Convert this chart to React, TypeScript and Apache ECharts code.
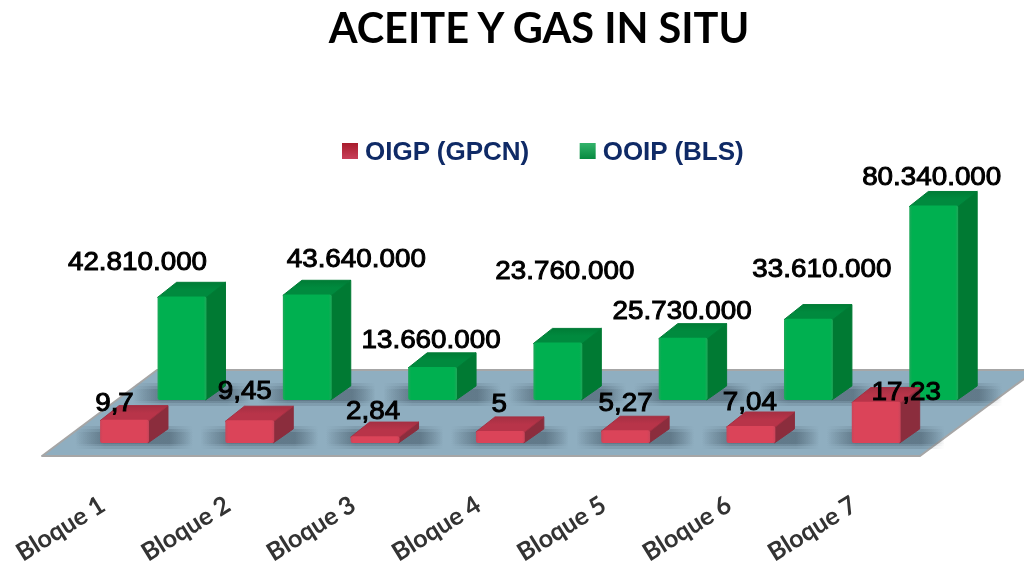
import React, { useEffect, useRef } from "react";
import * as echarts from "echarts";

const categories = ["Bloque 1", "Bloque 2", "Bloque 3", "Bloque 4", "Bloque 5", "Bloque 6", "Bloque 7"];
const oigpValues = [9.7, 9.45, 2.84, 5, 5.27, 7.04, 17.23];
const ooipValues = [42810000, 43640000, 13660000, 23760000, 25730000, 33610000, 80340000];
const oigpName = "OIGP (GPCN)";
const ooipName = "OOIP (BLS)";
const titleText = "ACEITE Y GAS IN SITU";

// hand-placed label nudges (px from the top-centre of each bar's front face)
const oigpLabelDx = [-10, -5, -2, -1, 0, -1, 30];
const oigpLabelDy = [-17, -30, -26, -28, -28, -25, -10];
const ooipLabelDx = [-44.5, 49, -1.5, 7, -1, 13.5, -2];
const ooipLabelDy = [-35, -36, -28, -72.5, -27, -50, -29];

const fmtOigp = (v: number) => String(v).replace(".", ",");
const fmtOoip = (v: number) => String(v).replace(/\B(?=(\d{3})+(?!\d))/g, ".");

const hGrad = (stops: string[]) => ({
  type: "linear", x: 0, y: 0, x2: 1, y2: 0,
  colorStops: stops.map((color, i) => ({ offset: i === 0 ? 0 : i === 1 ? 0.06 : i === 2 ? 0.94 : 1, color })),
});

const shadowFill = (a: number) => ({
  type: "linear", x: 0, y: 0, x2: 1, y2: 0,
  colorStops: [
    { offset: 0, color: "rgba(50,68,82,0)" },
    { offset: 0.25, color: `rgba(50,68,82,${a})` },
    { offset: 0.8, color: `rgba(50,68,82,${a})` },
    { offset: 1, color: "rgba(50,68,82,0)" },
  ],
});

function bar3d(
  colors: { frontEdge: string; front: string; top: string; topEdge: string; side: string },
  labelDx: number[], labelDy: number[], fmt: (v: number) => string,
) {
  return (params: any, api: any) => {
    const i = params.dataIndex;
    const v = api.value(1);
    const top = api.coord([api.value(0), v]);
    const base = api.coord([api.value(0), 0]);
    const band = api.size([1, 0])[0];
    const w = band * 0.39;
    const dx = w * 0.39;
    const dy = dx * 0.74;
    const x0 = top[0] - w / 2;
    const x1 = top[0] + w / 2;
    const yT = top[1];
    const yB = base[1];
    const shadows = [
      [-3, 6, 0.16], [0, 3, 0.2], [3, 1, 0.24],
    ].map(([inset, down, a]) => ({
      type: "rect",
      silent: true,
      shape: { x: x0 - 25, y: yB - dy + inset, width: w + dx + 50, height: dy - inset + down },
      style: { fill: shadowFill(a) },
    }));
    return {
      type: "group",
      children: [
        ...shadows,
        {
          type: "polygon",
          shape: { points: [[x1 - 1, yT], [x1 + dx, yT - dy], [x1 + dx, yB - dy], [x1 - 1, yB]] },
          style: { fill: colors.side, stroke: colors.side, lineWidth: 1, lineJoin: "round" },
        },
        {
          type: "polygon",
          shape: { points: [[x0, yT + 1], [x0 + dx, yT - dy], [x1 + dx, yT - dy], [x1, yT + 1]] },
          style: {
            stroke: colors.topEdge, lineWidth: 1, lineJoin: "round",
            fill: { type: "linear", x: 0, y: 0, x2: 0, y2: 1, colorStops: [
              { offset: 0, color: colors.topEdge }, { offset: 0.5, color: colors.top }, { offset: 1, color: colors.top },
            ] },
          },
        },
        {
          type: "rect",
          shape: { x: x0, y: yT, width: w, height: yB - yT, r: 2 },
          style: { fill: hGrad([colors.frontEdge, colors.front, colors.front, colors.frontEdge]) },
        },
        {
          type: "text",
          x: top[0] + labelDx[i],
          y: yT + labelDy[i],
          scaleX: 1.07,
          z2: 50,
          style: {
            text: fmt(v),
            fontFamily: "Liberation Sans",
            fontSize: 26,
            fill: "#000",
            stroke: "#000",
            lineWidth: 1,
            align: "center",
            verticalAlign: "middle",
          },
        },
      ],
    };
  };
}

export default function App() {
  const ref = useRef<HTMLDivElement>(null);
  useEffect(() => {
    const chart = echarts.init(ref.current!, null, { renderer: "svg" });
    const hiddenAxis = { show: false, type: "value" as const, min: 0 };
    const catAxis = { type: "category" as const, data: categories, axisLine: { show: false }, axisTick: { show: false }, axisLabel: { show: false } };
    chart.setOption({
      animation: false,
      backgroundColor: "#fff",
      title: {
        text: titleText, left: 534, top: 1, textAlign: "center",
        textStyle: { fontFamily: "Lato", fontWeight: "bold", fontSize: 41.5, color: "#000" },
      },
      legend: {
        data: [
          { name: oigpName, itemStyle: { color: { type: "linear", x: 0, y: 0, x2: 0, y2: 1, colorStops: [{ offset: 0, color: "#A81C2C" }, { offset: 1, color: "#C8405A" }] } } },
          { name: ooipName, itemStyle: { color: { type: "linear", x: 0, y: 0, x2: 0, y2: 1, colorStops: [{ offset: 0, color: "#33B36B" }, { offset: 1, color: "#078A40" }] } } },
        ],
        left: 342, top: 138, itemWidth: 16, itemHeight: 16, itemGap: 50, icon: "rect", padding: 0,
        textStyle: { fontFamily: "Liberation Sans", fontWeight: "bold", fontSize: 26, color: "#0F2A66", padding: [0, 0, 0, 2] },
      },
      graphic: [
        {
          type: "polygon", z: 0, silent: true,
          shape: { points: [[42, 456], [920, 456], [1036, 370], [157, 370]] },
          style: { fill: "#8FAEC0", stroke: "#A6A6A6", lineWidth: 2, lineJoin: "round" },
        },
      ],
      grid: [
        { left: 61.85, width: 877, top: 203, height: 240, outerBoundsMode: "none" },
        { left: 119.35, width: 877, top: 158, height: 242, outerBoundsMode: "none" },
        { left: 39, width: 877, top: 295, height: 200, outerBoundsMode: "none" },
      ],
      xAxis: [
        { ...catAxis, gridIndex: 0 },
        { ...catAxis, gridIndex: 1 },
        {
          ...catAxis, gridIndex: 2,
          axisLabel: { show: true, rotate: 32, margin: 6, interval: 0, fontFamily: "Lato", fontWeight: "bold", fontSize: 25, color: "#333" },
        },
      ],
      yAxis: [
        { ...hiddenAxis, gridIndex: 0, max: 100 },
        { ...hiddenAxis, gridIndex: 1, max: 100000000 },
        { ...hiddenAxis, gridIndex: 2, max: 1 },
      ],
      series: [
        {
          name: ooipName, type: "custom", xAxisIndex: 1, yAxisIndex: 1, clip: false, z: 3,
          itemStyle: { color: "#00B050" },
          encode: { x: 0, y: 1 },
          data: ooipValues.map((v, i) => [i, v]),
          renderItem: bar3d({ frontEdge: "#1FA85A", front: "#00B050", top: "#008A3E", topEdge: "#007C36", side: "#007A33" }, ooipLabelDx, ooipLabelDy, fmtOoip),
        },
        {
          name: oigpName, type: "custom", xAxisIndex: 0, yAxisIndex: 0, clip: false, z: 4,
          itemStyle: { color: "#DC4257" },
          encode: { x: 0, y: 1 },
          data: oigpValues.map((v, i) => [i, v]),
          renderItem: bar3d({ frontEdge: "#C9455A", front: "#DB4459", top: "#B83449", topEdge: "#A53043", side: "#8B2D3D" }, oigpLabelDx, oigpLabelDy, fmtOigp),
        },
      ],
    });
    return () => chart.dispose();
  }, []);
  return <div ref={ref} style={{ position: "absolute", left: 0, top: 0, width: 1024, height: 567, filter: "blur(0.4px)" }} />;
}
